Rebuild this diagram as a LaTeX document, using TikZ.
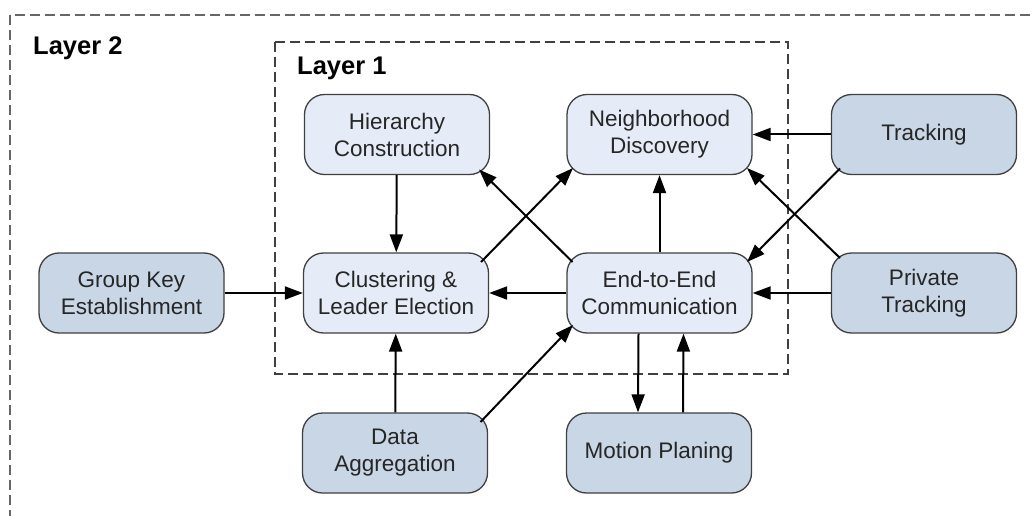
\documentclass[tikz,border=0pt]{standalone}
\usepackage{fontspec}
\setmainfont{Liberation Sans}
\usetikzlibrary{arrows.meta,calc}
\definecolor{corefill}{RGB}{230,236,247}
\definecolor{extfill}{RGB}{201,214,230}
\definecolor{edgegray}{RGB}{64,64,64}
\begin{document}
\begin{tikzpicture}[x=1pt,y=-1pt,
  block/.style={draw=edgegray,line width=1.3pt,rounded corners=20pt,
    minimum width=185pt,minimum height=80pt,align=center,inner sep=0pt,
    font=\fontsize{22.5}{27}\selectfont,text=black!85},
  core/.style={block,fill=corefill},
  ext/.style={block,fill=extfill},
  link/.style={line width=2pt,-{Triangle[length=18pt,width=13pt]}},
  layerlabel/.style={font=\fontsize{25.5}{30}\selectfont\bfseries,anchor=base west,inner sep=0pt},
  layerbox/.style={dashed,dash pattern=on 10pt off 5pt,line width=1.4pt}]
\clip (0,0) rectangle (1033,516);
\fill[white] (0,0) rectangle (1033,516);

% layer frames
\draw[layerbox,draw=black!60] (10,15) rectangle (1060,540);
\draw[layerbox,draw=black!75] (275,42) rectangle (788,374);
\node[layerlabel] (l2) at (33,55) {Layer 2};
\node[layerlabel] (l1) at (297,75) {Layer 1};

% layer 1 services
\node[core] (hie) at (397,134.5) {Hierarchy\\Construction};
\node[core] (nei) at (659.5,134.5) {Neighborhood\\Discovery};
\node[core] (clu) at (396,293) {Clustering \&\\Leader Election};
\node[core] (e2e) at (659.5,293) {End-to-End\\Communication};

% layer 2 services
\node[ext] (tra) at (924,134.5) {Tracking};
\node[ext] (pri) at (924,293) {Private\\Tracking};
\node[ext] (grp) at (131.5,293) {Group Key\\Establishment};
\node[ext] (dat) at (395,453) {Data\\Aggregation};
\node[ext] (mot) at (659,453) {Motion Planing};

% straight links
\draw[link] (hie) -- (clu);
\draw[link] (grp) -- (clu);
\draw[link] (e2e) -- (clu);
\draw[link] (e2e) -- (nei);
\draw[link] (tra) -- (nei);
\draw[link] (pri) -- (e2e);
\draw[link] (dat) -- (clu);
\draw[link] ($(e2e.south)+(-21,0)$) -- ($(mot.north)+(-21,0)$);
\draw[link] ($(mot.north)+(24,0)$) -- ($(e2e.south)+(24,0)$);

% diagonal links between rounded corners
\draw[link] ($(clu)+(85,-31)$) -- ($(nei)+(-86.5,33.5)$);
\draw[link] ($(e2e)+(-87,-31)$) -- ($(hie)+(82,35)$);
\draw[link] ($(tra)+(-84,34)$) -- ($(e2e)+(87.5,-31)$);
\draw[link] ($(pri)+(-84,-35)$) -- ($(nei)+(87.5,33.5)$);
\draw[link] ($(dat)+(85.5,-31)$) -- ($(e2e)+(-86.5,32)$);
\end{tikzpicture}
\end{document}
